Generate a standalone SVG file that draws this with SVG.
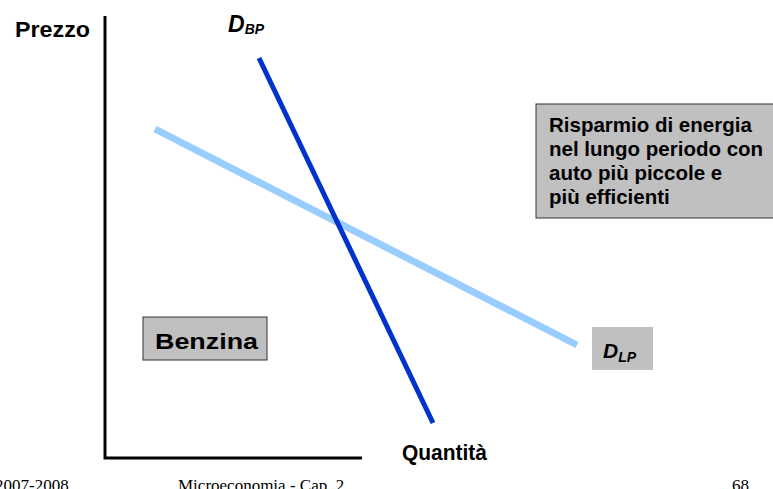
<svg xmlns="http://www.w3.org/2000/svg" width="773" height="489" viewBox="0 0 773 489">
<style>
.lbl{font-family:"Liberation Sans",Arial,sans-serif;font-weight:bold;fill:#000}
.foot{font-family:"Liberation Serif","Times New Roman",serif;fill:#000;font-size:17px}
.box{fill:#c0c0c0;stroke:#333;stroke-width:1}
.axis{stroke:#000;stroke-width:3;fill:none}
</style>
<rect width="773" height="489" fill="#fff"/>
<g id="axes">
<polyline class="axis" points="105,16 105,458 362,458"/>
<text class="lbl" x="15" y="37" font-size="22" textLength="75" lengthAdjust="spacingAndGlyphs">Prezzo</text>
<text class="lbl" x="402" y="460" font-size="22" textLength="85" lengthAdjust="spacingAndGlyphs">Quantità</text>
</g>
<g id="connectors">
<line id="DLP-line" x1="155" y1="129" x2="577" y2="345" stroke="#99ccff" stroke-width="7"/>
<line id="DBP-line" x1="259" y1="58" x2="433" y2="423" stroke="#0033cc" stroke-width="5"/>
</g>
<g id="label-DBP">
<text class="lbl" x="228" y="32" font-size="23" font-style="italic">D<tspan font-size="14" dy="2">BP</tspan></text>
</g>
<g id="label-DLP">
<rect x="592" y="327" width="61" height="43" fill="#c0c0c0"/>
<text class="lbl" x="603" y="358" font-size="21" font-style="italic">D<tspan font-size="14" dy="4">LP</tspan></text>
</g>
<g id="box-risparmio">
<rect class="box" x="536" y="104" width="240" height="114"/>
<text class="lbl" font-size="20.5">
<tspan x="549" y="132">Risparmio di energia</tspan>
<tspan x="549" y="156">nel lungo periodo con</tspan>
<tspan x="549" y="180">auto più piccole e</tspan>
<tspan x="549" y="204">più efficienti</tspan>
</text>
</g>
<g id="box-benzina">
<rect class="box" x="143" y="317" width="124" height="43"/>
<text class="lbl" x="155" y="349" font-size="22" textLength="103" lengthAdjust="spacingAndGlyphs">Benzina</text>
</g>
<g id="footer">
<text class="foot" x="-5" y="491">2007-2008</text>
<text class="foot" x="178" y="491">Microeconomia - Cap. 2</text>
<text class="foot" x="732" y="491">68</text>
</g>
</svg>
